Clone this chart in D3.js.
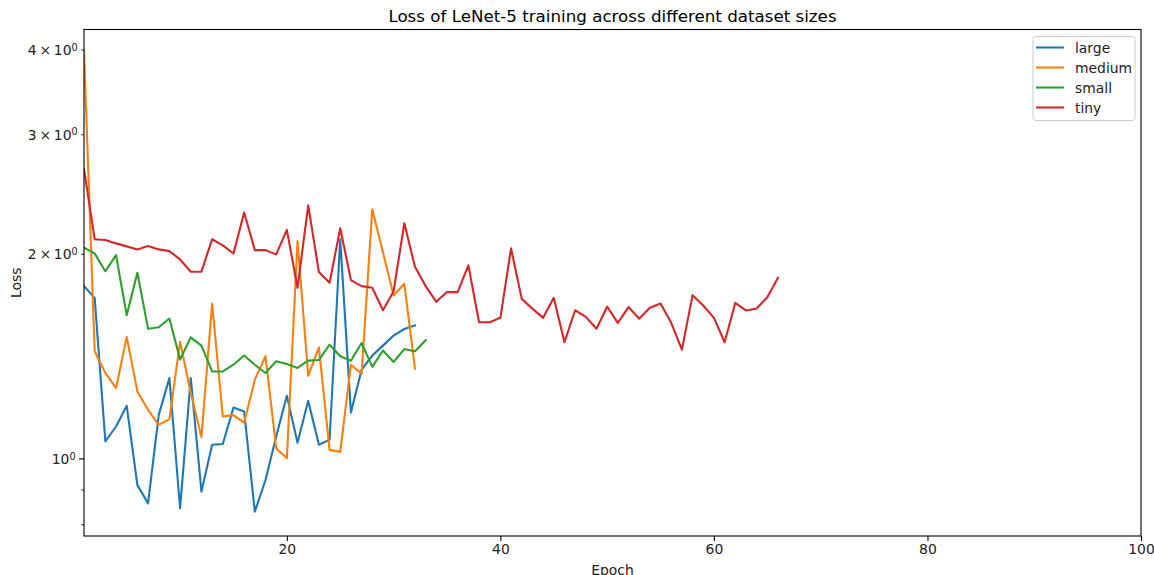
<!DOCTYPE html>
<html>
<head>
<meta charset="utf-8">
<script src="https://cdn.jsdelivr.net/npm/d3@7"></script>
<style>
  html, body { margin: 0; padding: 0; background: #fff; }
  svg { display: block; font-family: "DejaVu Sans", sans-serif; }
</style>
</head>
<body>
<svg id="chart" width="1154" height="575"></svg>
<script>
// Per-epoch training loss for each dataset size
const seriesNames = ["large", "medium", "small", "tiny"];
const seriesColors = ["#1f77b4", "#ff7f0e", "#2ca02c", "#d62728"];

const lossLarge = [1.796, 1.726, 1.061, 1.116, 1.197, 0.915, 0.860, 1.161, 1.315, 0.846,
  1.315, 0.895, 1.049, 1.052, 1.190, 1.174, 0.836, 0.931, 1.079, 1.239,
  1.056, 1.218, 1.049, 1.067, 2.105, 1.170, 1.353, 1.419, 1.468, 1.519,
  1.553, 1.573];
const lossMedium = [3.99, 1.440, 1.338, 1.271, 1.512, 1.257, 1.181, 1.122, 1.144, 1.487,
  1.250, 1.077, 1.693, 1.155, 1.160, 1.131, 1.308, 1.416, 1.037, 1.002,
  2.093, 1.326, 1.459, 1.031, 1.024, 1.376, 1.335, 2.330, 2.014, 1.740,
  1.810, 1.358];
const lossSmall = [2.046, 2.006, 1.889, 1.995, 1.627, 1.879, 1.554, 1.562, 1.609, 1.400,
  1.510, 1.468, 1.345, 1.345, 1.376, 1.420, 1.376, 1.338, 1.392, 1.379,
  1.361, 1.395, 1.398, 1.473, 1.416, 1.395, 1.481, 1.366, 1.444, 1.389,
  1.451, 1.440, 1.495];
const lossTiny = [2.670, 2.105, 2.100, 2.076, 2.055, 2.034, 2.057, 2.034, 2.022, 1.966,
  1.886, 1.886, 2.105, 2.062, 2.006, 2.305, 2.029, 2.029, 2.000, 2.173,
  1.786, 2.362, 1.884, 1.816, 2.185, 1.833, 1.796, 1.786, 1.655, 1.765,
  2.222, 1.918, 1.796, 1.703, 1.760, 1.760, 1.927, 1.589, 1.589, 1.613,
  2.041, 1.720, 1.664, 1.613, 1.726, 1.485, 1.655, 1.618, 1.554, 1.675,
  1.586, 1.673, 1.608, 1.669, 1.693, 1.586, 1.448, 1.742, 1.682, 1.613,
  1.485, 1.697, 1.654, 1.665, 1.730, 1.848];

const xTicks = [20, 40, 60, 80, 100];
const yLabeledTicks = [1, 2, 3, 4];
const yMinorTicks = [0.8, 0.9, 2, 3, 4];
const yMajorTicks = [1];

const allSeries = [lossLarge, lossMedium, lossSmall, lossTiny];

const svg = d3.select("#chart");
const plotLeft = 84, plotRight = 1141, plotTop = 29.5, plotBottom = 536;

const x = d3.scaleLinear().domain([1, 100]).range([plotLeft, plotRight]);
const y = d3.scaleLog().domain([0.770, 4.286]).range([plotBottom, plotTop]);

const axisColor = "#000";
const textColor = "#222";

// Plot clip
svg.append("clipPath").attr("id", "plotClip")
  .append("rect").attr("x", plotLeft).attr("y", plotTop)
  .attr("width", plotRight - plotLeft).attr("height", plotBottom - plotTop);

// Lines
const line = d3.line()
  .x((d, i) => x(i + 1))
  .y(d => y(d));

const plot = svg.append("g").attr("clip-path", "url(#plotClip)");
allSeries.forEach((vals, k) => {
  plot.append("path")
    .datum(vals)
    .attr("fill", "none")
    .attr("stroke", seriesColors[k])
    .attr("stroke-width", 2.1)
    .attr("stroke-linejoin", "round")
    .attr("stroke-linecap", "square")
    .attr("d", line);
});

// X axis
const xAxis = d3.axisBottom(x).tickValues(xTicks).tickSize(4.9).tickPadding(3.5)
  .tickFormat(d3.format("d"));
const gx = svg.append("g").attr("transform", `translate(0,${plotBottom})`).call(xAxis);
gx.select(".domain").remove();
gx.selectAll("line").attr("stroke", axisColor).attr("stroke-width", 1.1);
gx.selectAll("text").attr("font-size", 13.9).attr("fill", textColor)
  .attr("font-family", "DejaVu Sans, sans-serif");

// Y axis: minor ticks (short) and the major tick at 1
const gy = svg.append("g");
gy.selectAll("line.minor").data(yMinorTicks).enter().append("line")
  .attr("class", "minor")
  .attr("x1", plotLeft - 2.8).attr("x2", plotLeft)
  .attr("y1", d => y(d)).attr("y2", d => y(d))
  .attr("stroke", axisColor).attr("stroke-width", 0.8);
gy.selectAll("line.major").data(yMajorTicks).enter().append("line")
  .attr("class", "major")
  .attr("x1", plotLeft - 4.9).attr("x2", plotLeft)
  .attr("y1", d => y(d)).attr("y2", d => y(d))
  .attr("stroke", axisColor).attr("stroke-width", 1.1);

// Y tick labels in mathtext style: "k × 10^0" or "10^0"
yLabeledTicks.forEach(v => {
  const isMajor = v === 1;
  const t = gy.append("text")
    .attr("x", isMajor ? plotLeft - 8.4 : plotLeft - 6.3)
    .attr("y", y(v))
    .attr("dy", "0.36em")
    .attr("text-anchor", "end")
    .attr("font-size", 13.9)
    .attr("fill", textColor);
  t.append("tspan").text(isMajor ? "10" : `${v}\u2009\u00d7\u200910`);
  t.append("tspan").attr("dy", "-0.45em").attr("font-size", 9.7).text("0");
});

// Frame
svg.append("rect")
  .attr("x", plotLeft).attr("y", plotTop)
  .attr("width", plotRight - plotLeft).attr("height", plotBottom - plotTop)
  .attr("fill", "none").attr("stroke", axisColor).attr("stroke-width", 1.1);

// Title and axis labels
svg.append("text")
  .attr("x", (plotLeft + plotRight) / 2).attr("y", 21.5)
  .attr("text-anchor", "middle").attr("font-size", 16.7).attr("fill", "#000")
  .text("Loss of LeNet-5 training across different dataset sizes");

svg.append("text")
  .attr("x", (plotLeft + plotRight) / 2).attr("y", 575)
  .attr("text-anchor", "middle").attr("font-size", 13.9).attr("fill", textColor)
  .text("Epoch");

svg.append("text")
  .attr("transform", `translate(21,${(plotTop + plotBottom) / 2}) rotate(-90)`)
  .attr("text-anchor", "middle").attr("font-size", 13.9).attr("fill", textColor)
  .text("Loss");

// Legend
const lg = svg.append("g");
lg.append("rect")
  .attr("x", 1033).attr("y", 36.5).attr("width", 102).attr("height", 84)
  .attr("rx", 3).attr("ry", 3)
  .attr("fill", "#fff").attr("fill-opacity", 0.8)
  .attr("stroke", "#cccccc").attr("stroke-width", 1);
seriesNames.forEach((name, i) => {
  const cy = 47.5 + i * 20;
  lg.append("line")
    .attr("x1", 1036).attr("x2", 1064)
    .attr("y1", cy).attr("y2", cy)
    .attr("stroke", seriesColors[i]).attr("stroke-width", 2.1);
  lg.append("text")
    .attr("x", 1075).attr("y", cy).attr("dy", "0.36em")
    .attr("font-size", 13.9).attr("fill", textColor)
    .text(name);
});
</script>
</body>
</html>
